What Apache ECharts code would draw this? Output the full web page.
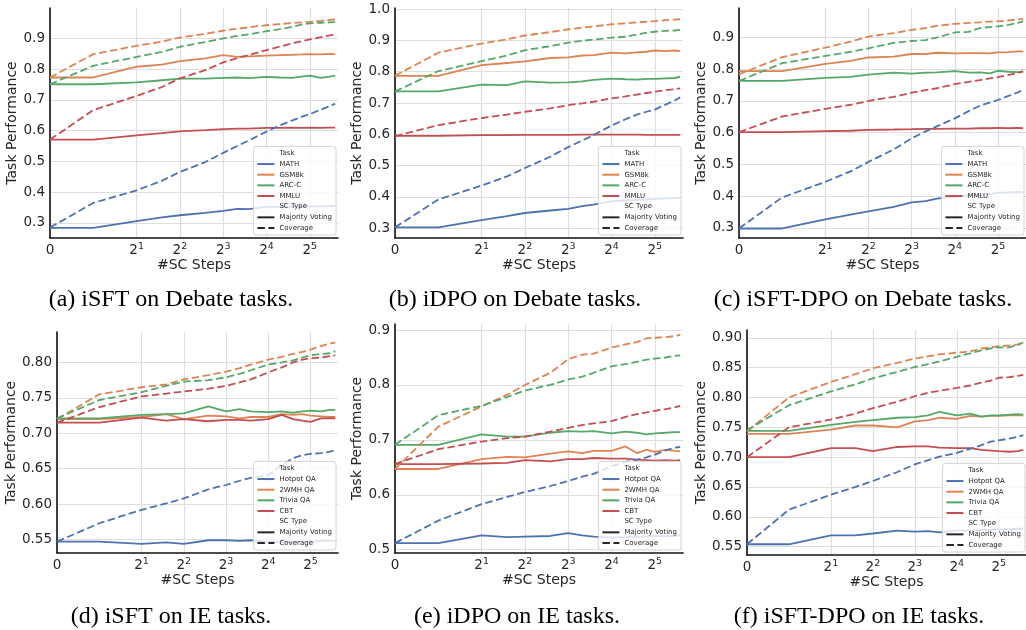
<!DOCTYPE html>
<html>
<head>
<meta charset="utf-8">
<script src="https://cdn.jsdelivr.net/npm/echarts@6/dist/echarts.min.js"></script>
<style>
html, body { margin: 0; padding: 0; background: #fff; }
#chart { width: 1026px; height: 630px; }
</style>
</head>
<body>
<div id="chart"></div>
<script>
const steps = [0, 1, 2, 3, 4, 6, 8, 10, 12, 16, 20, 24, 28, 32, 38, 44, 48];

const debateTasks = ['MATH', 'GSM8k', 'ARC-C', 'MMLU'];
const ieTasks = ['Hotpot QA', '2WMH QA', 'Trivia QA', 'CBT'];

// rows follow the task order above
const aMV = [
    [.284, .284, .306, .318, .325, .333, .339, .346, .345, .352, .352, .353, .353, .354, .354, .355, .355],
    [.773, .773, .808, .815, .826, .835, .846, .840, .842, .844, .846, .847, .848, .849, .848, .850, .849],
    [.751, .751, .757, .764, .769, .769, .772, .773, .771, .775, .773, .772, .776, .779, .772, .776, .779],
    [.571, .571, .585, .592, .598, .602, .605, .607, .607, .609, .609, .610, .609, .610, .609, .610, .610]
];
const aCov = [
    [.285, .365, .406, .437, .466, .498, .528, .550, .568, .597, .618, .633, .645, .654, .668, .680, .688],
    [.773, .849, .876, .890, .903, .915, .925, .932, .936, .943, .947, .950, .952, .954, .957, .960, .962],
    [.751, .811, .840, .856, .873, .888, .900, .908, .913, .924, .930, .938, .945, .949, .951, .952, .953],
    [.571, .667, .713, .742, .770, .797, .822, .836, .846, .862, .874, .884, .891, .897, .904, .910, .913]
];
const bMV = [
    [.302, .302, .325, .338, .348, .356, .361, .370, .375, .385, .388, .390, .392, .393, .395, .396, .397],
    [.787, .787, .821, .828, .833, .844, .846, .852, .853, .861, .859, .862, .864, .868, .866, .868, .866],
    [.737, .737, .759, .757, .769, .765, .766, .769, .774, .778, .776, .775, .777, .777, .779, .780, .784],
    [.595, .595, .597, .597, .598, .598, .598, .599, .599, .599, .599, .599, .598, .598, .598, .598, .598]
];
const bCov = [
    [.302, .391, .436, .465, .492, .528, .559, .580, .597, .628, .648, .663, .672, .679, .695, .708, .718],
    [.787, .861, .890, .904, .916, .927, .936, .941, .945, .952, .955, .958, .960, .962, .965, .967, .968],
    [.737, .802, .834, .852, .869, .882, .893, .899, .903, .909, .912, .919, .925, .928, .931, .932, .934],
    [.594, .629, .652, .663, .672, .683, .693, .699, .704, .715, .721, .727, .732, .736, .741, .744, .747]
];
const cMV = [
    [.298, .298, .327, .342, .352, .366, .380, .384, .392, .398, .402, .404, .406, .410, .412, .413, .412],
    [.794, .794, .817, .826, .837, .840, .848, .848, .852, .850, .851, .851, .850, .853, .854, .856, .856],
    [.763, .763, .773, .776, .783, .789, .786, .789, .790, .794, .789, .790, .787, .795, .792, .791, .793],
    [.602, .602, .605, .606, .609, .610, .611, .612, .612, .613, .613, .614, .614, .615, .614, .615, .614]
];
const cCov = [
    [.298, .396, .445, .478, .508, .547, .582, .604, .620, .645, .668, .685, .695, .703, .716, .727, .735],
    [.784, .838, .868, .887, .903, .914, .924, .930, .937, .943, .946, .948, .950, .951, .954, .957, .958],
    [.763, .819, .842, .855, .866, .883, .889, .892, .900, .916, .918, .930, .933, .935, .940, .946, .951],
    [.602, .651, .675, .688, .700, .713, .726, .734, .740, .753, .760, .766, .771, .775, .782, .788, .793]
];
const dMV = [
    [.547, .547, .544, .546, .544, .549, .549, .548, .549, .547, .546, .546, .547, .547, .548, .548, .548],
    [.720, .720, .723, .727, .720, .725, .724, .721, .723, .723, .727, .726, .727, .725, .724, .723, .723],
    [.721, .721, .726, .727, .728, .738, .731, .734, .731, .730, .731, .729, .731, .732, .731, .733, .733],
    [.715, .715, .722, .718, .720, .717, .719, .719, .718, .720, .726, .720, .718, .716, .721, .721, .721]
];
const dCov = [
    [.547, .573, .592, .601, .608, .621, .627, .633, .637, .641, .655, .665, .669, .671, .672, .674, .676],
    [.720, .755, .765, .769, .776, .782, .787, .792, .797, .804, .808, .812, .815, .818, .823, .827, .828],
    [.721, .747, .758, .767, .773, .775, .779, .784, .789, .797, .800, .803, .807, .810, .812, .813, .816],
    [.715, .737, .752, .756, .759, .763, .767, .772, .776, .786, .793, .800, .804, .806, .807, .809, .810]
];
const eMV = [
    [.512, .512, .526, .523, .524, .525, .530, .526, .524, .522, .523, .524, .524, .525, .525, .525, .526],
    [.647, .647, .665, .669, .668, .675, .679, .676, .680, .680, .688, .676, .682, .678, .682, .680, .679],
    [.691, .691, .710, .706, .706, .713, .716, .715, .716, .712, .715, .713, .710, .712, .713, .714, .714],
    [.656, .656, .657, .658, .663, .661, .665, .665, .667, .666, .666, .664, .663, .662, .663, .662, .663]
];
const eCov = [
    [.512, .553, .583, .596, .605, .616, .625, .633, .638, .652, .660, .664, .668, .673, .681, .686, .687],
    [.647, .724, .761, .782, .800, .822, .847, .855, .857, .868, .874, .878, .885, .886, .887, .889, .891],
    [.691, .745, .762, .778, .790, .800, .810, .815, .822, .834, .838, .842, .846, .848, .850, .853, .854],
    [.656, .683, .697, .703, .706, .715, .722, .727, .730, .734, .742, .747, .750, .753, .756, .759, .762]
];
const fMV = [
    [.554, .554, .569, .569, .572, .577, .575, .576, .574, .577, .577, .578, .578, .579, .579, .580, .580],
    [.739, .739, .746, .753, .753, .750, .760, .762, .766, .764, .769, .768, .769, .769, .770, .770, .770],
    [.744, .744, .754, .759, .762, .766, .767, .770, .776, .770, .773, .768, .770, .770, .771, .772, .771],
    [.700, .700, .715, .715, .710, .717, .718, .718, .716, .715, .715, .712, .711, .710, .709, .710, .712]
];
const fCov = [
    [.554, .612, .637, .650, .660, .675, .688, .695, .701, .707, .714, .720, .726, .728, .731, .734, .737],
    [.743, .800, .826, .839, .849, .858, .865, .869, .872, .875, .877, .882, .884, .886, .887, .889, .893],
    [.745, .787, .810, .822, .832, .843, .851, .856, .860, .868, .874, .879, .882, .884, .884, .888, .892],
    [.700, .750, .763, .773, .782, .793, .802, .808, .811, .816, .820, .825, .828, .833, .834, .836, .838]
];

const yTicks1 = [0.3, 0.4, 0.5, 0.6, 0.7, 0.8, 0.9];
const yTicksB = [0.3, 0.4, 0.5, 0.6, 0.7, 0.8, 0.9, 1.0];
const yTicksD = [0.55, 0.60, 0.65, 0.70, 0.75, 0.80];
const yTicksE = [0.5, 0.6, 0.7, 0.8, 0.9];
const yTicksF = [0.55, 0.60, 0.65, 0.70, 0.75, 0.80, 0.85, 0.90];
const xTicks = [0, 2, 3, 4, 5, 6]; // 0, 2^1 ... 2^5 on the symlog axis

const colors = ['#4c72b0', '#dd8452', '#55a868', '#c44e52'];
const font = 'DejaVu Sans';
const ink = '#262626';

// symlog-ish position: linear 0..1, then log2
function tx(s) { return s <= 1 ? s : 1 + Math.log2(s); }

const panels = [
    { tasks: debateTasks, mv: aMV, cov: aCov, box: [50, 8, 288, 230], y: [0.251, 0.999], ticks: yTicks1, dec: 1, gap: 24, cap: '(a) iSFT on Debate tasks.', cx: 171, cy: 300 },
    { tasks: debateTasks, mv: bMV, cov: bCov, box: [395, 8, 288, 230], y: [0.268, 1.004], ticks: yTicksB, dec: 1, gap: 26, cap: '(b) iDPO on Debate tasks.', cx: 515, cy: 300 },
    { tasks: debateTasks, mv: cMV, cov: cCov, box: [739, 8, 287, 230], y: [0.268, 0.993], ticks: yTicks1, dec: 1, gap: 23, cap: '(c) iSFT-DPO on Debate tasks.', cx: 863, cy: 300 },
    { tasks: ieTasks, mv: dMV, cov: dCov, box: [57, 332, 281, 221], y: [0.531, 0.843], ticks: yTicksD, dec: 2, gap: 31, cap: '(d) iSFT on IE tasks.', cx: 171, cy: 617 },
    { tasks: ieTasks, mv: eMV, cov: eCov, box: [395, 324, 288, 229], y: [0.494, 0.911], ticks: yTicksE, dec: 1, gap: 23, cap: '(e) iDPO on IE tasks.', cx: 517, cy: 617 },
    { tasks: ieTasks, mv: fMV, cov: fCov, box: [747, 330, 280, 225], y: [0.536, 0.913], ticks: yTicksF, dec: 2, gap: 32, cap: '(f) iSFT-DPO on IE tasks.', cx: 859, cy: 617 }
];

const grids = [], xAxes = [], yAxes = [], series = [], legends = [], graphics = [];

panels.forEach(function (p, gi) {
    const [l, t, w, h] = p.box;
    grids.push({ left: l, top: t, width: w, height: h, containLabel: false });
    xAxes.push({
        type: 'value', gridIndex: gi, min: 0, max: 6.65,
        name: '#SC Steps', nameLocation: 'middle', nameGap: 18,
        nameTextStyle: { fontFamily: font, fontSize: 14, color: ink },
        axisLine: { show: true, lineStyle: { color: '#111', width: 1.6 } },
        axisTick: { show: false, customValues: xTicks },
        splitLine: { show: true, lineStyle: { color: '#dedede', width: 1.2 } },
        axisLabel: {
            customValues: xTicks, margin: 4,
            formatter: function (v) { return v === 0 ? '{b|0}' : '{b|2}{s|' + (v - 1) + '}'; },
            rich: {
                b: { fontFamily: font, fontSize: 13.5, lineHeight: 16, color: ink },
                s: { fontFamily: font, fontSize: 9.5, lineHeight: 9, verticalAlign: 'top', color: ink }
            }
        }
    });
    yAxes.push({
        type: 'value', gridIndex: gi, min: p.y[0], max: p.y[1],
        name: 'Task Performance', nameLocation: 'middle', nameGap: p.gap,
        nameTextStyle: { fontFamily: font, fontSize: 14, color: ink },
        axisLine: { show: true, lineStyle: { color: '#111', width: 1.6 } },
        axisTick: { show: false, customValues: p.ticks },
        splitLine: { show: true, lineStyle: { color: '#dedede', width: 1.2 } },
        axisLabel: {
            customValues: p.ticks, margin: 5,
            fontFamily: font, fontSize: 13.5, color: ink,
            formatter: function (v) { return v.toFixed(p.dec); }
        }
    });
    p.tasks.forEach(function (name, k) {
        series.push({
            type: 'line', name: name, xAxisIndex: gi, yAxisIndex: gi, symbol: 'none',
            data: steps.map(function (s, i) { return [tx(s), p.mv[k][i]]; }),
            lineStyle: { color: colors[k], width: 1.8 }, itemStyle: { color: colors[k] },
            emphasis: { disabled: true }, z: 2
        });
    });
    p.tasks.forEach(function (name, k) {
        series.push({
            type: 'line', name: name, xAxisIndex: gi, yAxisIndex: gi, symbol: 'none',
            data: steps.map(function (s, i) { return [tx(s), p.cov[k][i]]; }),
            lineStyle: { color: colors[k], width: 1.8, type: [7.5, 3.5] }, itemStyle: { color: colors[k] },
            emphasis: { disabled: true }, z: 2
        });
    });
    legends.push({
        orient: 'vertical', selectedMode: false,
        right: 1026 - (l + w) + 2, bottom: 630 - (t + h) + 3,
        padding: [3, 4, 3, 3], itemGap: 2.66, itemWidth: 17, itemHeight: 8,
        backgroundColor: 'rgba(255,255,255,0.8)', borderColor: '#d4d4d4', borderWidth: 1, borderRadius: 3,
        itemStyle: { opacity: 0 },
        textStyle: { fontFamily: font, fontSize: 7, lineHeight: 8, color: ink },
        data: ['Task'].concat(p.tasks, ['SC Type', 'Majority Voting', 'Coverage'])
    });
    graphics.push({
        type: 'text', x: p.cx, y: p.cy,
        style: { text: p.cap, align: 'center', verticalAlign: 'middle', fill: '#000', font: '24px "Liberation Serif"' }
    });
});

// legend-only entries (section titles and line-style keys)
[['Task', 'rgba(0,0,0,0)', 'solid'], ['SC Type', 'rgba(0,0,0,0)', 'solid'],
 ['Majority Voting', ink, 'solid'], ['Coverage', ink, [7.5, 3.5]]].forEach(function (d) {
    series.push({
        type: 'line', name: d[0], xAxisIndex: 0, yAxisIndex: 0, symbol: 'none', data: [],
        lineStyle: { color: d[1], width: 1.8, type: d[2] }, itemStyle: { color: d[1] }
    });
});

const chart = echarts.init(document.getElementById('chart'));
chart.setOption({
    backgroundColor: '#fff',
    animation: false,
    grid: grids,
    xAxis: xAxes,
    yAxis: yAxes,
    legend: legends,
    series: series,
    graphic: graphics
});
</script>
</body>
</html>
